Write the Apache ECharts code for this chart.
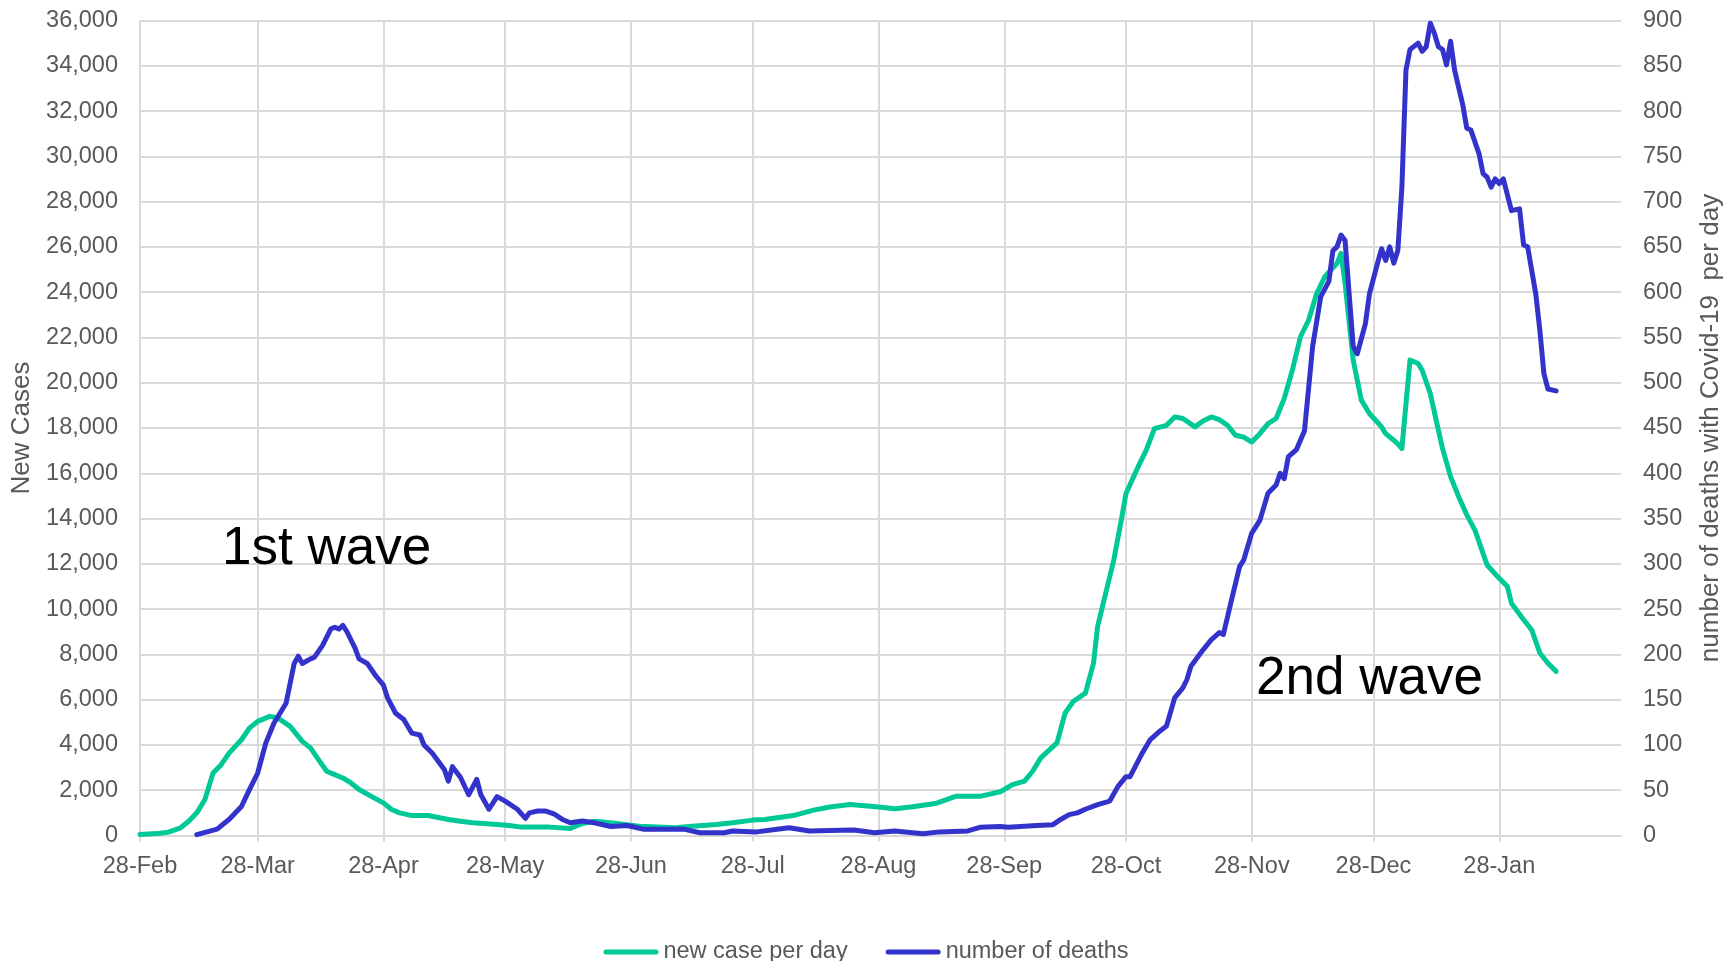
<!DOCTYPE html>
<html>
<head>
<meta charset="utf-8">
<script src="https://cdn.jsdelivr.net/npm/echarts@6/dist/echarts.min.js"></script>
<style>
html,body{margin:0;padding:0;background:#fff;overflow:hidden;width:1732px;height:961px;}
#chart{position:absolute;left:0;top:0;width:1732px;height:961px;}
</style>
</head>
<body>
<div id="chart"></div>
<script>
// ---- DATA (day offset from 28-Feb-2020) ----
const monthNames = ['Jan','Feb','Mar','Apr','May','Jun','Jul','Aug','Sep','Oct','Nov','Dec'];
const leftTicks = {min: 0, max: 36000, interval: 2000};
const rightTicks = {min: 0, max: 900, interval: 50};

const caseDay = [0,5,7,10,12,14,16,18,20,22,25,27,29,32,34,37,40,42,44,46,48,50,52,54,57,60,62,64,67,71,76,79,82,88,91,94,101,106,109,112,116,123,132,136,142,146,151,154,161,166,170,175,180,182,186,190,196,201,207,212,215,218,220,222,226,228,230,233,235,236,238,240,242,243,246,248,250,253,255,257,260,262,264,266,268,270,272,274,276,278,280,282,284,286,288,290,292,295,296,297,299,301,303,306,307,309,310,311,313,315,316,318,320,321,323,325,327,329,332,335,337,338,341,343,345,347,349];
const caseVal = [40,100,150,340,630,1000,1590,2760,3130,3650,4230,4750,5040,5260,5190,4820,4160,3870,3350,2840,2690,2540,2320,2030,1730,1440,1150,1000,880,880,710,630,560,485,440,370,370,310,530,630,560,410,340,410,485,560,680,705,880,1120,1260,1370,1290,1260,1180,1260,1410,1730,1730,1930,2250,2400,2840,3430,4090,5410,5920,6290,7610,9230,10700,12170,14080,15110,16290,17020,17970,18120,18490,18420,18050,18310,18490,18370,18120,17680,17600,17380,17750,18190,18420,19300,20550,22030,22760,23940,24680,25270,25710,24380,21000,19230,18640,18050,17750,17460,17300,17090,21000,20850,20550,19520,17900,17100,15850,14960,14160,13490,11950,11360,11000,10260,9530,9080,8060,7610,7250];

const deathDay = [14,19,22,25,27,29,31,33,36,37,38,39,40,42,43,45,47,48,49,50,51,53,54,56,58,60,61,63,65,67,69,70,72,75,76,77,79,81,83,84,86,88,90,93,95,96,98,100,102,104,106,109,112,116,120,124,134,138,144,146,152,157,160,165,170,176,181,186,193,197,204,207,212,214,221,225,227,229,231,233,236,239,241,243,244,247,249,251,253,255,257,258,259,262,264,266,267,269,271,272,274,276,278,280,281,282,283,285,287,289,291,293,294,295,296,297,298,299,300,302,303,305,306,307,308,309,310,311,312,313,315,316,317,318,319,320,321,322,323,324,326,327,328,330,331,332,333,334,335,336,338,340,341,342,344,345,346,347,349];
const deathVal = [1,7,18,32,51,69,102,124,146,168,190,198,190,195,197,210,228,230,228,232,225,207,195,190,177,166,152,135,128,113,111,100,91,73,60,76,64,45,62,45,29,43,38,29,19,25,27,27,24,18,14,16,14,10,11,7,7,3,3,5,4,7,8.5,5,5.5,6,3,5,2,4,5,9,10,9,11,12,18,23,25,29,34,38,54,65,65,91,106,114,121,152,163,172,187,205,216,224,222,260,297,304,334,348,378,387,400,394,418,426,447,540,595,612,646,650,663,657,598,540,532,565,598,632,648,635,650,632,646,716,845,868,875,866,871,897,886,871,868,851,877,845,807,781,779,753,731,727,716,725,720,725,690,692,652,650,598,558,510,493,491];

const seriesNames = ['new case per day', 'number of deaths'];
const axisNames = ['New Cases', 'number of deaths with Covid-19  per day'];
const annotations = [
  {text: '1st wave', day: 46, value: 12650},
  {text: '2nd wave', day: 303, value: 6900}
];

// ---- category axis: one category per day, 28-Feb-2020 .. 27-Feb-2021 ----
const startMs = Date.UTC(2020, 1, 28);
const dayCount = 366;
const categories = [];
for (let i = 0; i < dayCount; i++) {
  categories.push(new Date(startMs + i * 86400000).toISOString().slice(0, 10));
}
const isMonthTick = (idx, val) => val.slice(8, 10) === '28';
const fmtDate = v => {
  const d = new Date(v + 'T00:00:00Z');
  return d.getUTCDate() + '-' + monthNames[d.getUTCMonth()];
};

const FONT = '"Liberation Sans", Arial, sans-serif';
const GRAY = '#595959';
const GRID = '#D9D9D9';
const FS = 23.5;
const NAME_FS = 26;
const GREEN = '#00C896';
const BLUE = '#3333CC';
const legendIcon = 'path://M2.5,0L52.5,0A2.5,2.5,0,0,1,52.5,5L2.5,5A2.5,2.5,0,0,1,2.5,0Z';

const chart = echarts.init(document.getElementById('chart'), null, {renderer: 'canvas', width: 1732, height: 961});
chart.setOption({
  animation: false,
  backgroundColor: '#ffffff',
  textStyle: {fontFamily: FONT},
  grid: {left: 140, right: 102, top: 20.5, bottom: 125.5, containLabel: false},
  legend: {
    data: seriesNames.map(n => ({name: n, icon: legendIcon})),
    left: 'center',
    top: 935,
    itemWidth: 55,
    itemHeight: 6,
    itemGap: 38,
    textStyle: {fontSize: FS, color: GRAY, fontFamily: FONT}
  },
  xAxis: {
    type: 'category',
    data: categories,
    boundaryGap: false,
    axisLine: {show: true, lineStyle: {color: GRID, width: 2}},
    axisTick: {show: true, interval: isMonthTick, length: 6, lineStyle: {color: GRID, width: 2}},
    axisLabel: {interval: isMonthTick, formatter: fmtDate, fontSize: FS, color: GRAY, margin: 19, fontFamily: FONT},
    splitLine: {show: true, interval: isMonthTick, lineStyle: {color: GRID, width: 2}}
  },
  yAxis: [
    {
      type: 'value',
      min: leftTicks.min, max: leftTicks.max, interval: leftTicks.interval,
      name: axisNames[0], nameLocation: 'middle', nameGap: 103,
      nameTextStyle: {fontSize: NAME_FS, color: GRAY, fontFamily: FONT},
      axisLine: {show: false}, axisTick: {show: false},
      axisLabel: {fontSize: FS, color: GRAY, margin: 22, fontFamily: FONT,
                  formatter: v => v.toLocaleString('en-US')},
      splitLine: {show: true, lineStyle: {color: GRID, width: 2}}
    },
    {
      type: 'value',
      position: 'right',
      min: rightTicks.min, max: rightTicks.max, interval: rightTicks.interval,
      name: axisNames[1], nameLocation: 'middle', nameGap: 77,
      nameTextStyle: {fontSize: NAME_FS, color: GRAY, fontFamily: FONT},
      axisLine: {show: false}, axisTick: {show: false},
      axisLabel: {fontSize: FS, color: GRAY, margin: 22, fontFamily: FONT},
      splitLine: {show: false}
    }
  ],
  series: [
    {
      name: seriesNames[0],
      type: 'line',
      yAxisIndex: 0,
      symbol: 'none',
      lineStyle: {color: GREEN, width: 5, join: 'round', cap: 'round'},
      itemStyle: {color: GREEN},
      data: caseDay.map((d, i) => [categories[d], caseVal[i]]),
      markPoint: {
        symbol: 'circle', symbolSize: 0, silent: true,
        label: {show: true, position: 'inside', formatter: p => p.name,
                fontSize: 53, color: '#000000', fontFamily: FONT},
        data: annotations.map(a => ({name: a.text, coord: [categories[a.day], a.value]}))
      }
    },
    {
      name: seriesNames[1],
      type: 'line',
      yAxisIndex: 1,
      symbol: 'none',
      lineStyle: {color: BLUE, width: 5, join: 'round', cap: 'round'},
      itemStyle: {color: BLUE},
      data: deathDay.map((d, i) => [categories[d], deathVal[i]])
    }
  ]
});
</script>
</body>
</html>
